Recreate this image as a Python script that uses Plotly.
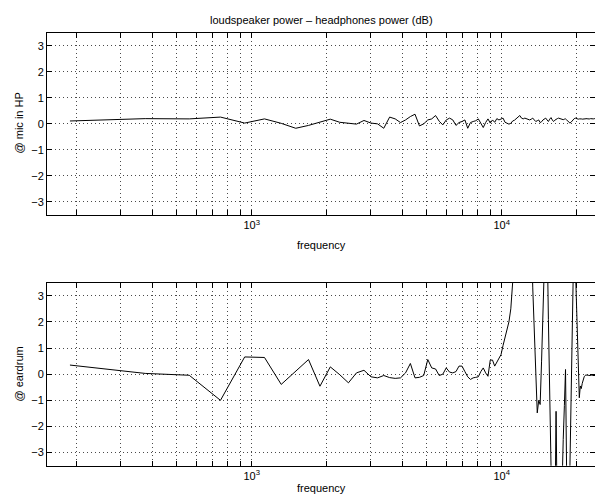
import math
import plotly.graph_objects as go

# ---------------- data ----------------
freq_hz = [
    187.5, 375.0, 562.5, 750.0, 937.5, 1125.0, 1312.5, 1500.0, 1687.5, 1875.0,
    2062.5, 2250.0, 2437.5, 2625.0, 2812.5, 3000.0, 3187.5, 3375.0, 3562.5, 3750.0,
    3937.5, 4125.0, 4312.5, 4500.0, 4687.5, 4875.0, 5062.5, 5250.0, 5437.5, 5625.0,
    5812.5, 6000.0, 6187.5, 6375.0, 6562.5, 6750.0, 6937.5, 7125.0, 7312.5, 7500.0,
    7687.5, 7875.0, 8062.5, 8250.0, 8437.5, 8625.0, 8812.5, 9000.0, 9187.5, 9375.0,
    9562.5, 9750.0, 9937.5, 10125.0, 10312.5, 10500.0, 10687.5, 10875.0, 11062.5, 11250.0,
    11437.5, 11625.0, 11812.5, 12000.0, 12187.5, 12375.0, 12562.5, 12750.0, 12937.5, 13125.0,
    13312.5, 13500.0, 13687.5, 13875.0, 14062.5, 14250.0, 14437.5, 14625.0, 14812.5, 15000.0,
    15187.5, 15375.0, 15562.5, 15750.0, 15937.5, 16125.0, 16312.5, 16500.0, 16687.5, 16875.0,
    17062.5, 17250.0, 17437.5, 17625.0, 17812.5, 18000.0, 18187.5, 18375.0, 18562.5, 18750.0,
    18937.5, 19125.0, 19312.5, 19500.0, 19687.5, 19875.0, 20062.5, 20250.0, 20437.5, 20625.0,
    20812.5, 21000.0, 21187.5, 21375.0, 21562.5, 21750.0, 21937.5, 22125.0, 22312.5, 22500.0,
    22687.5, 22875.0, 23062.5, 23250.0, 23437.5, 23625.0, 23812.5, 24000.0,
]

mic_in_hp_db = [
    0.11, 0.20, 0.19, 0.26, 0.03, 0.19, 0.02, -0.17, -0.06, 0.06,
    0.18, 0.06, 0.02, -0.01, 0.13, 0.03, 0.00, -0.17, 0.26, 0.19,
    0.05, 0.15, 0.28, 0.37, -0.08, 0.00, 0.15, 0.19, 0.32, 0.10,
    -0.04, 0.15, 0.22, 0.15, -0.06, 0.05, 0.09, 0.15, -0.17, 0.05,
    0.09, 0.12, 0.19, -0.01, -0.14, 0.05, 0.19, 0.03, 0.15, 0.06,
    0.20, 0.15, 0.20, 0.22, 0.06, 0.03, -0.01, 0.02, 0.11, 0.14,
    0.19, 0.25, 0.32, 0.22, 0.19, 0.22, 0.20, 0.17, 0.15, 0.18,
    0.22, 0.15, 0.09, 0.12, 0.15, 0.05, 0.08, 0.15, 0.18, 0.22,
    0.15, 0.09, 0.18, 0.24, 0.15, 0.09, 0.14, 0.18, 0.20, 0.22,
    0.20, 0.18, 0.15, 0.16, 0.18, 0.19, 0.15, 0.10, 0.07, 0.03,
    0.06, 0.12, 0.16, 0.20, 0.22, 0.20, 0.19, 0.18, 0.19, 0.20,
    0.19, 0.18, 0.19, 0.20, 0.19, 0.19, 0.20, 0.19, 0.18, 0.19,
    0.20, 0.19, 0.19, 0.19, 0.20, 0.19, 0.19, 0.19,
]

eardrum_db = [
    0.35, 0.03, -0.04, -1.00, 0.66, 0.64, -0.39, 0.10, 0.56, -0.46,
    0.28, -0.02, -0.33, 0.05, 0.15, -0.10, -0.14, -0.05, -0.13, -0.16,
    -0.14, 0.05, 0.41, -0.14, -0.12, -0.05, 0.56, 0.24, 0.20, -0.05,
    0.00, 0.24, 0.08, 0.05, 0.10, 0.31, 0.31, 0.10, -0.10, -0.20,
    -0.14, -0.12, -0.10, 0.10, 0.24, 0.05, -0.08, 0.54, 0.54, 0.31,
    0.45, 0.60, 0.75, 1.10, 1.40, 1.70, 2.00, 2.50, 3.20, 4.50,
    5.80, 7.00, 8.20, 9.00, 9.50, 9.20, 8.60, 8.00, 7.20, 5.60,
    3.30, 1.60, -0.10, -1.48, -1.00, -1.16, 0.50, 2.20, 3.90, 6.00,
    5.50, 2.10, -0.90, -3.90, -7.00, -9.00, -6.00, -1.42, -8.00, -10.00,
    -8.50, -6.00, -3.60, -2.50, -1.20, 0.18, -3.80, -8.00, -6.00, -3.50,
    -1.20, 0.90, 3.20, 6.00, 4.30, 3.00, 1.60, 0.30, -0.90, -0.45,
    -0.55, -0.35, -0.20, -0.10, -0.05, -0.02, -0.05, -0.03, -0.05, -0.04,
    -0.05, -0.04, -0.05, -0.05, -0.04, -0.05, -0.05, -0.05,
]

x_grid_vals = [200, 300, 400, 500, 600, 700, 800, 900, 1000,
               2000, 3000, 4000, 5000, 6000, 7000, 8000, 9000, 10000, 20000]
x_major_vals = [1000, 10000]
x_major_text = ["10<sup>3</sup>", "10<sup>4</sup>"]
y_tick_vals = [-3, -2, -1, 0, 1, 2, 3]

title_text = "loudspeaker power \u2013 headphones power (dB)"
x_title = "frequency"
y_titles = ["@ mic in HP", "@ eardrum"]

# ---------------- layout geometry ----------------
W, H = 595, 502
L = 47
PW = W - L
def px_x(px):
    return (px - L) / PW
def px_y(py):
    return 1 - py / H

x_range = [2.1812, 2.1812 + PW / 250.0]
y_range = [-3.5, 3.5]
FONT = "Liberation Sans, Arial, Helvetica, sans-serif"
GRIDC = "#4a4a4a"
GRID = dict(showgrid=True, gridcolor=GRIDC, gridwidth=1, griddash="1px,3px")

fig = go.Figure()
fig.add_trace(go.Scatter(x=freq_hz, y=mic_in_hp_db, mode="lines",
                         line=dict(color="black", width=1), xaxis="x", yaxis="y",
                         showlegend=False, hoverinfo="skip"))
fig.add_trace(go.Scatter(x=freq_hz, y=eardrum_db, mode="lines",
                         line=dict(color="black", width=1), xaxis="x2", yaxis="y2",
                         showlegend=False, hoverinfo="skip"))
# invisible traces for right-side tick axes
fig.add_trace(go.Scatter(x=[], y=[], xaxis="x", yaxis="y3", showlegend=False))
fig.add_trace(go.Scatter(x=[], y=[], xaxis="x2", yaxis="y4", showlegend=False))

def xaxis(anchor):
    return dict(type="log", range=x_range, domain=[0, 1], anchor=anchor,
                tickmode="array", tickvals=x_major_vals, ticktext=x_major_text,
                ticks="inside", ticklen=5, tickwidth=1, tickcolor="black",
                showline=True, linecolor="black", linewidth=1, mirror="allticks",
                zeroline=False,
                tickfont=dict(family=FONT, size=11, color="black"),
                minor=dict(tickmode="array", tickvals=x_grid_vals, ticks="inside",
                           ticklen=3, tickcolor="black", showgrid=True,
                           gridcolor=GRIDC, gridwidth=1, griddash="1px,3px"),
                **GRID)

def yaxis(anchor, domain):
    return dict(range=y_range, domain=domain, anchor=anchor,
                tickmode="array", tickvals=y_tick_vals,
                ticks="inside", ticklen=5, tickwidth=1, tickcolor="black",
                showline=True, linecolor="black", linewidth=1, mirror=False,
                zeroline=False,
                tickfont=dict(family=FONT, size=11, color="black"),
                **GRID)

def yaxis_right(overlay, anchor, domain):
    return dict(range=y_range, domain=domain, anchor=anchor, overlaying=overlay,
                side="right", tickmode="array", tickvals=y_tick_vals,
                ticks="inside", ticklen=5, tickwidth=1, tickcolor="black",
                showticklabels=False, showline=False, showgrid=False, zeroline=False)

top_dom = [px_y(215.0), px_y(32.7)]
bot_dom = [px_y(465.7), px_y(282.7)]

fig.update_layout(
    width=W, height=H,
    margin=dict(l=L, r=0, t=0, b=0, pad=0),
    paper_bgcolor="white", plot_bgcolor="white",
    font=dict(family=FONT, size=11, color="black"),
    xaxis=xaxis("y"),
    xaxis2=xaxis("y2"),
    yaxis=yaxis("x", top_dom),
    yaxis2=yaxis("x2", bot_dom),
    yaxis3=yaxis_right("y", "x", top_dom),
    yaxis4=yaxis_right("y2", "x2", bot_dom),
    showlegend=False,
)

ann = [
    dict(text=title_text, x=px_x(321), y=px_y(20)),
    dict(text=x_title, x=px_x(321), y=px_y(245)),
    dict(text=x_title, x=px_x(321), y=px_y(488)),
    dict(text=y_titles[0], x=px_x(18), y=px_y(123.5), textangle=-90),
    dict(text=y_titles[1], x=px_x(18), y=px_y(374.5), textangle=-90),
]
for a in ann:
    fig.add_annotation(xref="paper", yref="paper", showarrow=False,
                       xanchor="center", yanchor="middle",
                       font=dict(family=FONT, size=11, color="black"), **a)

fig.write_html(
    "out.html",
    config={"displayModeBar": False},
    post_script="document.body.style.margin='0';document.body.style.overflow='hidden';",
)
